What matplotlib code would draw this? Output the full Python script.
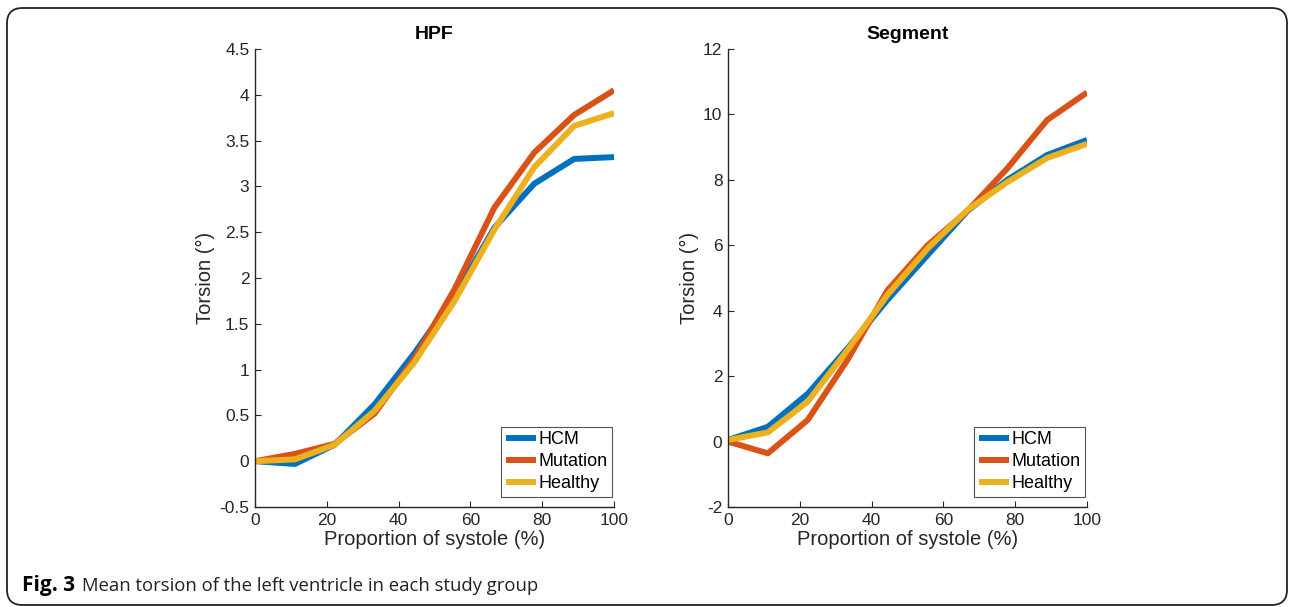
import matplotlib.pyplot as plt
from matplotlib.patches import FancyBboxPatch

# proportion of systole (%)
systole = [0, 11.1, 22.2, 33.3, 44.4, 55.6, 66.7, 77.8, 88.9, 100]

groups = ["HCM", "Mutation", "Healthy"]
colors = ["#0072BD", "#D95319", "#EDB120"]

hpf_hcm = [0, -0.03, 0.18, 0.62, 1.18, 1.8, 2.55, 3.03, 3.3, 3.32]
hpf_mutation = [0, 0.08, 0.19, 0.52, 1.12, 1.88, 2.77, 3.37, 3.78, 4.05]
hpf_healthy = [0, 0.02, 0.18, 0.55, 1.08, 1.75, 2.53, 3.21, 3.66, 3.80]

seg_hcm = [0.05, 0.45, 1.46, 2.85, 4.33, 5.7, 7.05, 8.0, 8.76, 9.22]
seg_mutation = [0, -0.36, 0.66, 2.5, 4.62, 6.0, 7.05, 8.35, 9.83, 10.67]
seg_healthy = [0.05, 0.28, 1.22, 2.8, 4.48, 5.9, 7.08, 7.93, 8.67, 9.1]

plt.rcParams["font.family"] = ["Liberation Sans", "DejaVu Sans"]
axis_color = "#262626"


def draw_panel(ax, title, series, ylim, yticks):
    for values, name, c in zip(series, groups, colors):
        ax.plot(systole, values, color=c, lw=4.3, label=name, solid_capstyle="butt")
    ax.set_xlim(0, 100)
    ax.set_ylim(*ylim)
    ax.set_xticks([0, 20, 40, 60, 80, 100])
    ax.set_yticks(yticks)
    ax.set_yticklabels([f"{t:g}" for t in yticks])
    ax.set_title(title, fontsize=14, fontweight="bold", color="black", pad=7)
    ax.set_xlabel("Proportion of systole (%)", fontsize=14.5, color=axis_color, labelpad=2)
    ax.set_ylabel("Torsion (°)", fontsize=14.5, color=axis_color, labelpad=3)
    for side in ["top", "right"]:
        ax.spines[side].set_visible(False)
    for side in ["left", "bottom"]:
        ax.spines[side].set_color(axis_color)
        ax.spines[side].set_linewidth(1.0)
    ax.tick_params(direction="in", length=4, width=0.8, colors=axis_color,
                   labelsize=12.5, labelcolor=axis_color, pad=4)
    leg = ax.legend(loc="lower right", bbox_to_anchor=(0.994, 0.022), fontsize=13,
                    frameon=True, fancybox=False, handlelength=1.7, handletextpad=0.1,
                    borderpad=0.25, labelspacing=0.28, borderaxespad=0)
    leg.get_frame().set_edgecolor(axis_color)
    leg.get_frame().set_linewidth(0.8)
    for line in leg.get_lines():
        line.set_linewidth(4.3)


fig = plt.figure(figsize=(12.9, 6.07), dpi=100)
ax1 = fig.add_axes([255 / 1290, 100 / 607, 359 / 1290, 458 / 607])
ax2 = fig.add_axes([728 / 1290, 100 / 607, 359 / 1290, 458 / 607])

draw_panel(ax1, "HPF", [hpf_hcm, hpf_mutation, hpf_healthy], (-0.5, 4.5),
           [-0.5, 0, 0.5, 1, 1.5, 2, 2.5, 3, 3.5, 4, 4.5])
draw_panel(ax2, "Segment", [seg_hcm, seg_mutation, seg_healthy], (-2, 12),
           [-2, 0, 2, 4, 6, 8, 10, 12])

# rounded frame around the figure
border = FancyBboxPatch((7 / 1290, 2 / 607), 1280 / 1290, 597 / 607,
                        boxstyle="round,pad=0,rounding_size=0.012",
                        transform=fig.transFigure, fill=False,
                        edgecolor="#222222", linewidth=1.3, mutation_aspect=2.1)
fig.patches.append(border)

fig.text(22 / 1290, 1 - 586 / 607, "Fig. 3", fontsize=15, fontweight="bold",
         family=["Open Sans", "DejaVu Sans"], va="center", ha="left")
fig.text(82 / 1290, 1 - 586 / 607, "Mean torsion of the left ventricle in each study group",
         fontsize=13.3, family=["Open Sans", "DejaVu Sans"], va="center", ha="left",
         color="#222222")

fig.savefig("out.png", dpi=100)
